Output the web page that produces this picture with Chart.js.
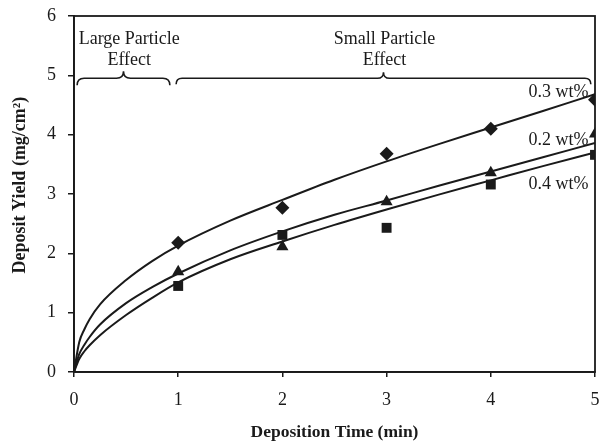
<!DOCTYPE html>
<html>
<head>
<meta charset="utf-8">
<script src="https://cdn.jsdelivr.net/npm/chart.js@4.4.1/dist/chart.umd.min.js"></script>
<style>
  html, body { margin: 0; padding: 0; background: #fff; }
  #wrap { width: 602px; height: 441px; }
</style>
</head>
<body>
<div id="wrap"><canvas id="chart" width="602" height="441"></canvas></div>
<script>
// ── Data ────────────────────────────────────────────────
// measured deposit yield (mg/cm2) per deposition time (min)
const times = [1, 2, 3, 4, 5];
const yield03 = [2.18, 2.77, 3.68, 4.10, 4.59];
const yield02 = [1.69, 2.11, 2.87, 3.36, 4.01];
const yield04 = [1.45, 2.31, 2.43, 3.16, 3.66];

// trend curves through the origin
const fitTimes = [0, 0.05, 0.1, 0.15, 0.25, 0.5, 0.75, 1, 1.5, 2, 2.5, 3, 3.5, 4, 4.5, 5];
const fit03 = [0, 0.50, 0.72, 0.89, 1.14, 1.55, 1.87, 2.13, 2.55, 2.90, 3.24, 3.55, 3.84, 4.12, 4.40, 4.68];
const fit02 = [0, 0.30, 0.46, 0.59, 0.80, 1.16, 1.43, 1.66, 2.05, 2.37, 2.65, 2.89, 3.14, 3.38, 3.62, 3.86];
const fit04 = [0, 0.22, 0.35, 0.45, 0.62, 0.96, 1.25, 1.51, 1.90, 2.20, 2.48, 2.74, 2.99, 3.23, 3.47, 3.70];

const seriesLabels = ['0.3 wt%', '0.2 wt%', '0.4 wt%'];
const xTicks = [0, 1, 2, 3, 4, 5];
const yTicks = [0, 1, 2, 3, 4, 5, 6];

const INK = '#1a1a1a';
const SERIF = '"Liberation Serif", "Times New Roman", serif';

const pts = (xs, ys) => xs.map((x, i) => ({ x, y: ys[i] }));

function curve(label, ys) {
    return {
        label,
        data: pts(fitTimes, ys),
        showLine: true,
        borderColor: INK,
        borderWidth: 2,
        pointRadius: 0,
        cubicInterpolationMode: 'monotone',
        order: 2
    };
}

function markers(label, ys, style, radius) {
    return {
        label,
        data: pts(times, ys),
        showLine: false,
        pointStyle: style,
        pointRadius: radius,
        pointBackgroundColor: INK,
        pointBorderWidth: 0,
        order: 1
    };
}

// ── Annotations: plot frame, y title, braces, curve labels ──
function brace(ctx, x1, x2, y, h) {
    const xm = (x1 + x2) / 2;
    const r = h;
    ctx.beginPath();
    ctx.moveTo(x1, y + h);
    ctx.quadraticCurveTo(x1, y, x1 + r, y);
    ctx.lineTo(xm - r, y);
    ctx.quadraticCurveTo(xm, y, xm, y - h);
    ctx.quadraticCurveTo(xm, y, xm + r, y);
    ctx.lineTo(x2 - r, y);
    ctx.quadraticCurveTo(x2, y, x2, y + h);
    ctx.stroke();
}

const annotations = {
    id: 'annotations',
    afterDraw(chart) {
        const { ctx, chartArea: a, scales: { x, y } } = chart;
        ctx.save();
        ctx.strokeStyle = INK;
        ctx.lineWidth = 1.8;
        ctx.strokeRect(a.left, a.top, a.right - a.left, a.bottom - a.top);

        ctx.lineWidth = 1.6;
        brace(ctx, x.getPixelForValue(0.03), x.getPixelForValue(0.92), y.getPixelForValue(4.95), 7);
        brace(ctx, x.getPixelForValue(0.98), x.getPixelForValue(4.96), y.getPixelForValue(4.95), 6);

        ctx.fillStyle = INK;
        ctx.font = '18px ' + SERIF;
        ctx.textAlign = 'center';
        ctx.textBaseline = 'middle';
        ctx.fillText('Large Particle', x.getPixelForValue(0.53), y.getPixelForValue(5.61));
        ctx.fillText('Effect', x.getPixelForValue(0.53), y.getPixelForValue(5.25));
        ctx.fillText('Small Particle', x.getPixelForValue(2.98), y.getPixelForValue(5.61));
        ctx.fillText('Effect', x.getPixelForValue(2.98), y.getPixelForValue(5.25));

        const labelY = [4.72, 3.91, 3.17];
        seriesLabels.forEach((t, i) => {
            ctx.fillText(t, x.getPixelForValue(4.65), y.getPixelForValue(labelY[i]));
        });

        // y axis title, rotated
        ctx.translate(20, y.getPixelForValue(3.15));
        ctx.rotate(-Math.PI / 2);
        ctx.font = 'bold 18px ' + SERIF;
        ctx.fillText('Deposit Yield (mg/cm²)', 0, 0);
        ctx.restore();
    }
};

// ── Chart ───────────────────────────────────────────────
new Chart(document.getElementById('chart'), {
    type: 'scatter',
    data: {
        datasets: [
            curve(seriesLabels[0], fit03),
            curve(seriesLabels[1], fit02),
            curve(seriesLabels[2], fit04),
            markers(seriesLabels[0], yield03, 'rectRot', 7),
            markers(seriesLabels[1], yield02, 'triangle', 7),
            markers(seriesLabels[2], yield04, 'rect', 7)
        ]
    },
    options: {
        responsive: false,
        animation: false,
        devicePixelRatio: 1,
        layout: { padding: { top: 16, right: 4, bottom: 0, left: 0 } },
        plugins: {
            legend: { display: false },
            tooltip: { enabled: false }
        },
        scales: {
            x: {
                type: 'linear',
                min: 0,
                max: 5,
                afterBuildTicks: s => { s.ticks = xTicks.map(v => ({ value: v })); },
                afterFit: s => { s.height = 69; s.paddingLeft = 0; s.paddingRight = 0; },
                grid: { drawOnChartArea: false, drawTicks: true, tickLength: 5, color: INK, lineWidth: 1.5 },
                border: { color: INK, width: 1.8 },
                ticks: { color: INK, padding: 12, maxRotation: 0, font: { family: SERIF, size: 18 } },
                title: {
                    display: true,
                    text: 'Deposition Time (min)',
                    color: INK,
                    padding: { top: 0, bottom: 0 },
                    font: { family: SERIF, size: 17.5, weight: 'bold', lineHeight: 1 }
                }
            },
            y: {
                type: 'linear',
                min: 0,
                max: 6,
                afterBuildTicks: s => { s.ticks = yTicks.map(v => ({ value: v })); },
                afterFit: s => { s.width = 74; s.paddingTop = 0; s.paddingBottom = 0; },
                grid: { drawOnChartArea: false, drawTicks: true, tickLength: 6, color: INK, lineWidth: 1.5 },
                border: { color: INK, width: 1.8 },
                ticks: { color: INK, padding: 12, font: { family: SERIF, size: 18 } }
            }
        }
    },
    plugins: [annotations]
});
</script>
</body>
</html>
